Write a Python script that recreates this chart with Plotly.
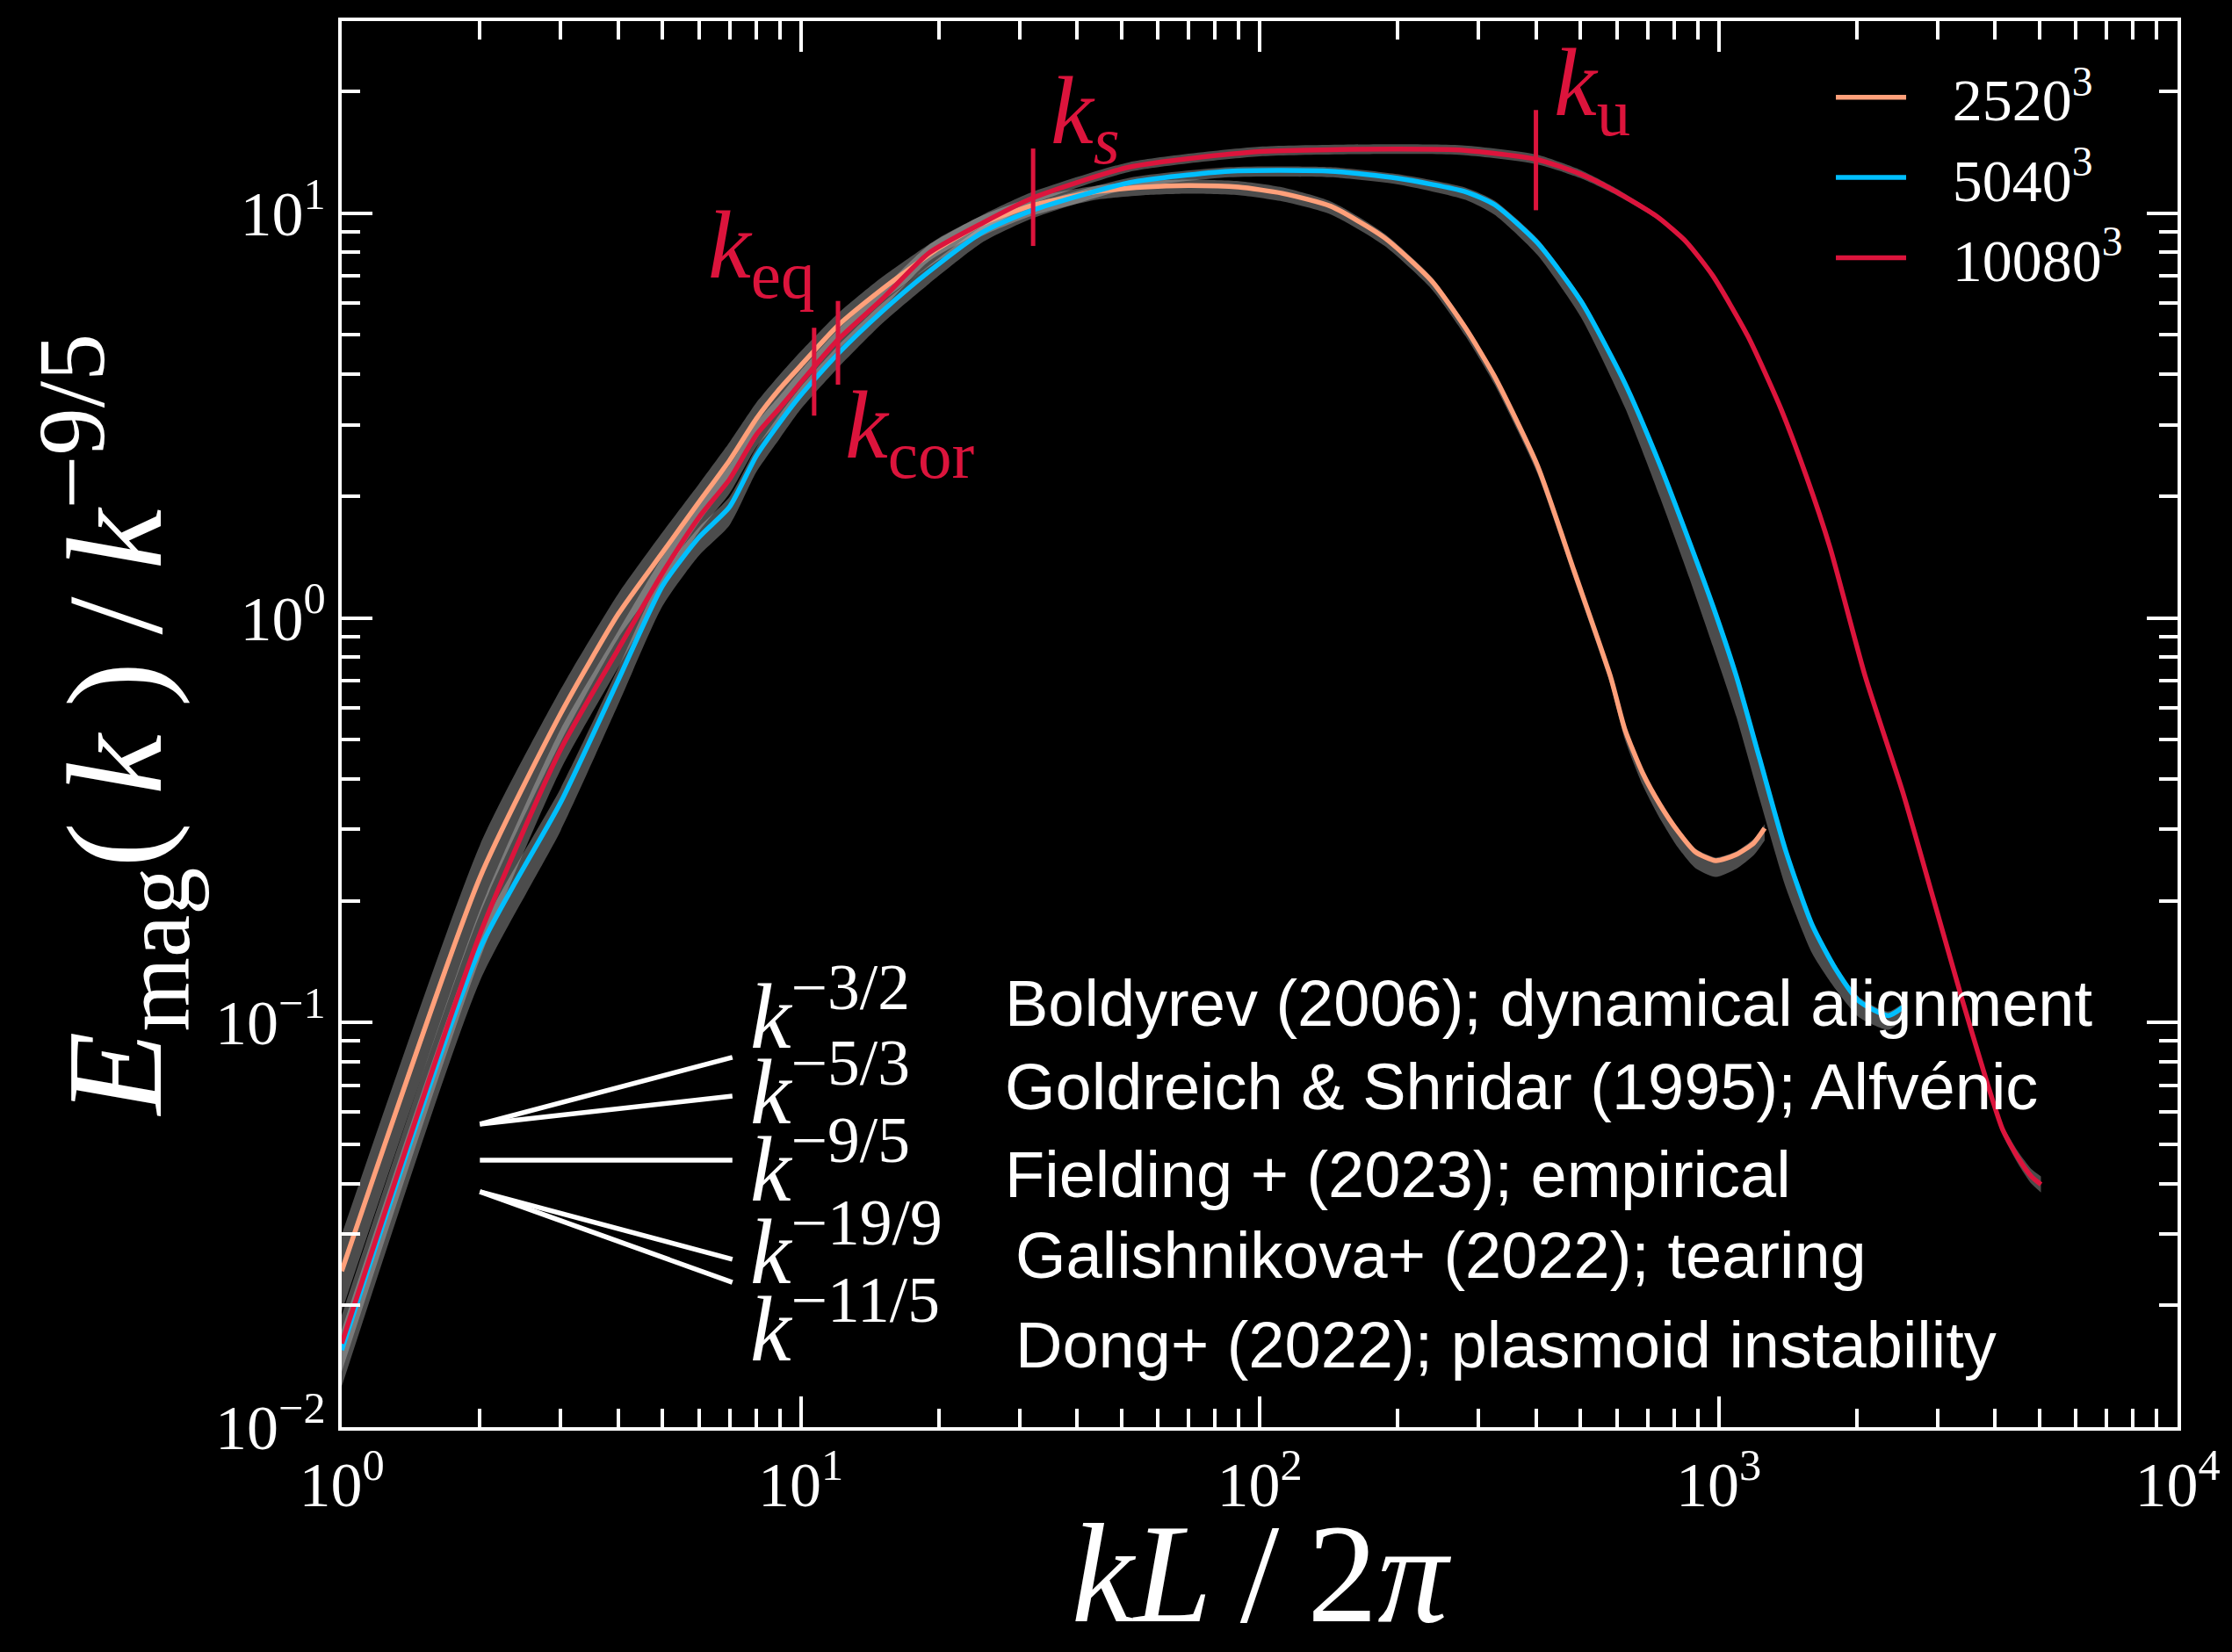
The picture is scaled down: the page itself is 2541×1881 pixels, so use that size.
import plotly.graph_objects as go

# Compensated magnetic energy spectra E_mag(k)/k^(-9/5) for three resolutions
k_2520 = [1, 2, 3, 4, 5, 6, 7, 8, 9, 10, 12, 15, 20, 25, 32, 44, 56, 70, 90, 112,
          143, 187, 237, 281, 325, 403, 484, 581, 625, 683, 746, 815, 890, 986,
          1093, 1194, 1260]
E_2520 = [0.0243, 0.228, 0.58, 1.02, 1.45, 1.93, 2.45, 3.10, 3.68, 4.20, 5.25, 6.47,
          8.2, 9.45, 10.45, 11.3, 11.6, 11.7, 11.6, 11.2, 10.4, 8.7, 6.8, 5.2, 3.95,
          2.38, 1.31, 0.718, 0.53, 0.414, 0.345, 0.297, 0.264, 0.251, 0.26, 0.278,
          0.302]
# spread of the time-variability band, in dex below / above the mean
lo_2520 = [0.10, 0.09, 0.07, 0.06, 0.06, 0.05, 0.05, 0.05, 0.04, 0.04, 0.04, 0.03,
           0.03, 0.03, 0.025, 0.02, 0.02, 0.02, 0.02, 0.02, 0.02, 0.02, 0.02, 0.02,
           0.02, 0.02, 0.02, 0.02, 0.025, 0.03, 0.035, 0.04, 0.04, 0.04, 0.035,
           0.03, 0.03]
hi_2520 = [0.09, 0.08, 0.06, 0.05, 0.05, 0.045, 0.045, 0.04, 0.035, 0.035, 0.03,
           0.03, 0.025, 0.02, 0.02, 0.015, 0.015, 0.015, 0.015, 0.015, 0.012, 0.01,
           0.01, 0.01, 0.01, 0.008, 0.008, 0.008, 0.008, 0.008, 0.008, 0.008, 0.008,
           0.008, 0.008, 0.01, 0.01]

k_5040 = [1, 2, 3, 4, 5, 6, 7, 8, 9, 10, 12, 15, 19, 25, 32, 52, 86, 143, 200, 281,
          325, 403, 502, 625, 746, 864, 972, 1093, 1228, 1403, 1600, 1800, 2023,
          2344, 2520]
E_5040 = [0.0155, 0.152, 0.35, 0.70, 1.20, 1.58, 1.88, 2.51, 3.04, 3.55, 4.47, 5.70,
          7.16, 9.0, 10.17, 11.9, 12.7, 12.7, 12.2, 11.3, 10.5, 8.45, 6.05, 3.80,
          2.38, 1.54, 1.07, 0.718, 0.45, 0.264, 0.174, 0.1355, 0.113, 0.104, 0.109]
lo_5040 = [0.09, 0.08, 0.07, 0.06, 0.05, 0.045, 0.045, 0.04, 0.04, 0.035, 0.035,
           0.03, 0.03, 0.025, 0.02, 0.015, 0.015, 0.015, 0.015, 0.02, 0.025, 0.03,
           0.04, 0.06, 0.08, 0.09, 0.10, 0.10, 0.10, 0.09, 0.07, 0.05, 0.04, 0.035,
           0.03]
hi_5040 = [0.05, 0.04, 0.035, 0.03, 0.03, 0.025, 0.025, 0.02, 0.02, 0.02, 0.02,
           0.02, 0.015, 0.015, 0.015, 0.012, 0.01, 0.01, 0.01, 0.01, 0.01, 0.01,
           0.01, 0.01, 0.01, 0.01, 0.01, 0.01, 0.01, 0.01, 0.01, 0.01, 0.01, 0.01,
           0.01]

k_10080 = [1, 2, 3, 4, 5, 6, 7, 8, 9, 10, 12, 15, 19, 25, 32, 52, 100, 200, 280, 400,
           500, 590, 735, 850, 972, 1159, 1362, 1555, 1750, 2086, 2525, 2925, 3388,
           3866, 4160, 4500, 4800, 5040]
E_10080 = [0.0161, 0.165, 0.473, 0.835, 1.29, 1.77, 2.20, 2.83, 3.30, 3.81, 4.84,
           6.11, 7.96, 9.48, 10.9, 13.0, 14.2, 14.4, 14.3, 13.6, 12.5, 11.4, 9.8, 8.5,
           7.0, 4.96, 3.32, 2.23, 1.49, 0.718, 0.368, 0.2056, 0.1148, 0.0697,
           0.0543, 0.0462, 0.0417, 0.0398]
lo_10080 = [0.07, 0.06, 0.05, 0.045, 0.04, 0.035, 0.035, 0.03, 0.03, 0.03, 0.025,
            0.025, 0.02, 0.02, 0.015, 0.012, 0.012, 0.012, 0.012, 0.012, 0.01, 0.008,
            0.006, 0.005, 0.005, 0.005, 0.005, 0.005, 0.005, 0.005, 0.005, 0.006,
            0.008, 0.01, 0.012, 0.015, 0.018, 0.02]
hi_10080 = lo_10080

series_names = ["2520<sup>3</sup>", "5040<sup>3</sup>", "10080<sup>3</sup>"]
series_colors = ["#FFA07A", "#00BFFF", "#DC143C"]

# Reference power-law slopes (compensated), k from 2 to 7.1
guide_k = [2, 7.1]
guide_m3_2 = [0.0561, 0.082]
guide_m5_3 = [0.0561, 0.0658]
guide_m9_5 = [0.0457, 0.0457]
guide_m19_9 = [0.0382, 0.026]
guide_m11_5 = [0.0382, 0.0228]
guide_labels = ["−3/2", "−5/3", "−9/5", "−19/9", "−11/5"]
guide_label_y = [-0.969, -1.156, -1.347, -1.550, -1.742]   # log10 positions
guide_refs = ["Boldyrev (2006); dynamical alignment",
              "Goldreich &amp; Shridar (1995); Alfvénic",
              "Fielding + (2023); empirical",
              "Galishnikova+ (2022); tearing",
              "Dong+ (2022); plasmoid instability"]
ref_x = [1.441, 1.441, 1.441, 1.464, 1.464]                  # log10 positions
ref_y = [-0.952, -1.158, -1.375, -1.575, -1.796]

# Characteristic wavenumbers of the 10080^3 run
mark_k = [10.7, 12.06, 32.1, 400]
mark_lo = [3.16, 3.77, 8.30, 10.17]
mark_hi = [5.21, 6.07, 14.45, 17.99]
mark_text = ["<i>k</i><sub>eq</sub>", "<i>k</i><sub>cor</sub>",
             "<i>k</i><sub><i>s</i></sub>", "<i>k</i><sub>u</sub>"]
mark_lx = [0.7935, 1.0928, 1.5407, 2.638]
mark_ly = [0.905, 0.460, 1.236, 1.306]

x_tickvals = [1, 10, 100, 1000, 10000]
x_ticktext = ["10<sup>0</sup>", "10<sup>1</sup>", "10<sup>2</sup>", "10<sup>3</sup>", "10<sup>4</sup>"]
y_tickvals = [0.01, 0.1, 1, 10]
y_ticktext = ["10<sup>−2</sup>", "10<sup>−1</sup>", "10<sup>0</sup>", "10<sup>1</sup>"]

SERIF = "Liberation Serif"
SANS = "Liberation Sans"
BAND = "rgba(200,200,200,0.38)"
GAP = "\u2002\u2009"   # room between legend swatch and label

fig = go.Figure()

# variability bands first, so the mean curves sit on top
for k, E, lo, hi in [(k_2520, E_2520, lo_2520, hi_2520),
                     (k_5040, E_5040, lo_5040, hi_5040),
                     (k_10080, E_10080, lo_10080, hi_10080)]:
    upper = [e * 10 ** h for e, h in zip(E, hi)]
    lower = [e / 10 ** l for e, l in zip(E, lo)]
    fig.add_trace(go.Scatter(x=k, y=upper, mode="lines", line=dict(width=0, shape="spline", smoothing=0.6),
                             showlegend=False, hoverinfo="skip"))
    fig.add_trace(go.Scatter(x=k, y=lower, mode="lines", line=dict(width=0, shape="spline", smoothing=0.6),
                             fill="tonexty", fillcolor=BAND, showlegend=False, hoverinfo="skip"))

for k, E, name, color in zip([k_2520, k_5040, k_10080], [E_2520, E_5040, E_10080],
                             series_names, series_colors):
    fig.add_trace(go.Scatter(x=k, y=E, mode="lines", name=GAP + name,
                             line=dict(color=color, width=5.5, shape="spline", smoothing=0.6)))

for gy in [guide_m3_2, guide_m5_3, guide_m9_5, guide_m19_9, guide_m11_5]:
    fig.add_trace(go.Scatter(x=guide_k, y=gy, mode="lines", line=dict(color="white", width=5.5),
                             showlegend=False, hoverinfo="skip"))

for mk, ml, mh in zip(mark_k, mark_lo, mark_hi):
    fig.add_trace(go.Scatter(x=[mk, mk], y=[ml, mh], mode="lines", line=dict(color="#DC143C", width=5),
                             showlegend=False, hoverinfo="skip"))

annotations = []
for lab, ly in zip(guide_labels, guide_label_y):
    annotations.append(dict(x=0.886, y=ly, xref="x", yref="y", xanchor="left", yanchor="middle",
                            text=f"<i>k</i><sup>{lab}</sup>", showarrow=False,
                            font=dict(family=SERIF, size=105, color="white")))
for txt, rx, ry in zip(guide_refs, ref_x, ref_y):
    annotations.append(dict(x=rx, y=ry, xref="x", yref="y", xanchor="left", yanchor="middle",
                            text=txt, showarrow=False,
                            font=dict(family=SANS, size=74, color="white")))
for txt, lx, ly in zip(mark_text, mark_lx, mark_ly):
    annotations.append(dict(x=lx, y=ly, xref="x", yref="y", xanchor="left", yanchor="middle",
                            text=txt, showarrow=False,
                            font=dict(family=SERIF, size=110, color="#DC143C")))


def minor_vals(lo_dec, hi_dec):
    return [m * 10 ** d for d in range(lo_dec, hi_dec) for m in range(2, 10)]


axis_style = dict(type="log", showline=True, linecolor="white", linewidth=4, mirror="allticks",
                  ticks="inside", ticklen=35, tickwidth=3.5, tickcolor="white",
                  showgrid=False, zeroline=False,
                  tickfont=dict(family=SERIF, size=72, color="white"))

fig.update_xaxes(range=[0, 4], tickmode="array", tickvals=x_tickvals, ticktext=x_ticktext,
                 minor=dict(ticks="inside", ticklen=21, tickwidth=3.5, tickcolor="white",
                            tickmode="array", tickvals=minor_vals(0, 4), showgrid=False),
                 title=dict(text="<i>kL</i>\u2009/\u20092<i>π</i>",
                            font=dict(family=SERIF, size=160, color="white"), standoff=20),
                 **axis_style)
fig.update_yaxes(range=[-2, 1.4748], tickmode="array", tickvals=y_tickvals, ticktext=y_ticktext,
                 minor=dict(ticks="inside", ticklen=21, tickwidth=3.5, tickcolor="white",
                            tickmode="array", tickvals=minor_vals(-2, 2), showgrid=False),
                 title=dict(text="<i>E</i><sub>mag</sub>(\u2009<i>k</i>\u2009)\u2009/\u2009<i>k</i><sup>−9/5</sup>",
                            font=dict(family=SERIF, size=155, color="white"), standoff=10),
                 **axis_style)

fig.update_layout(
    width=2541, height=1881,
    margin=dict(l=389, r=62, t=24, b=256, autoexpand=False),
    paper_bgcolor="black", plot_bgcolor="black",
    font=dict(family=SERIF, color="white", size=72),
    legend=dict(x=0.8115, y=0.9775, xanchor="left", yanchor="top", bgcolor="rgba(0,0,0,0)",
                traceorder="normal",
                font=dict(family=SERIF, size=68, color="white"), itemwidth=80, tracegroupgap=0),
    annotations=annotations,
)

fig.write_html("out.html")
